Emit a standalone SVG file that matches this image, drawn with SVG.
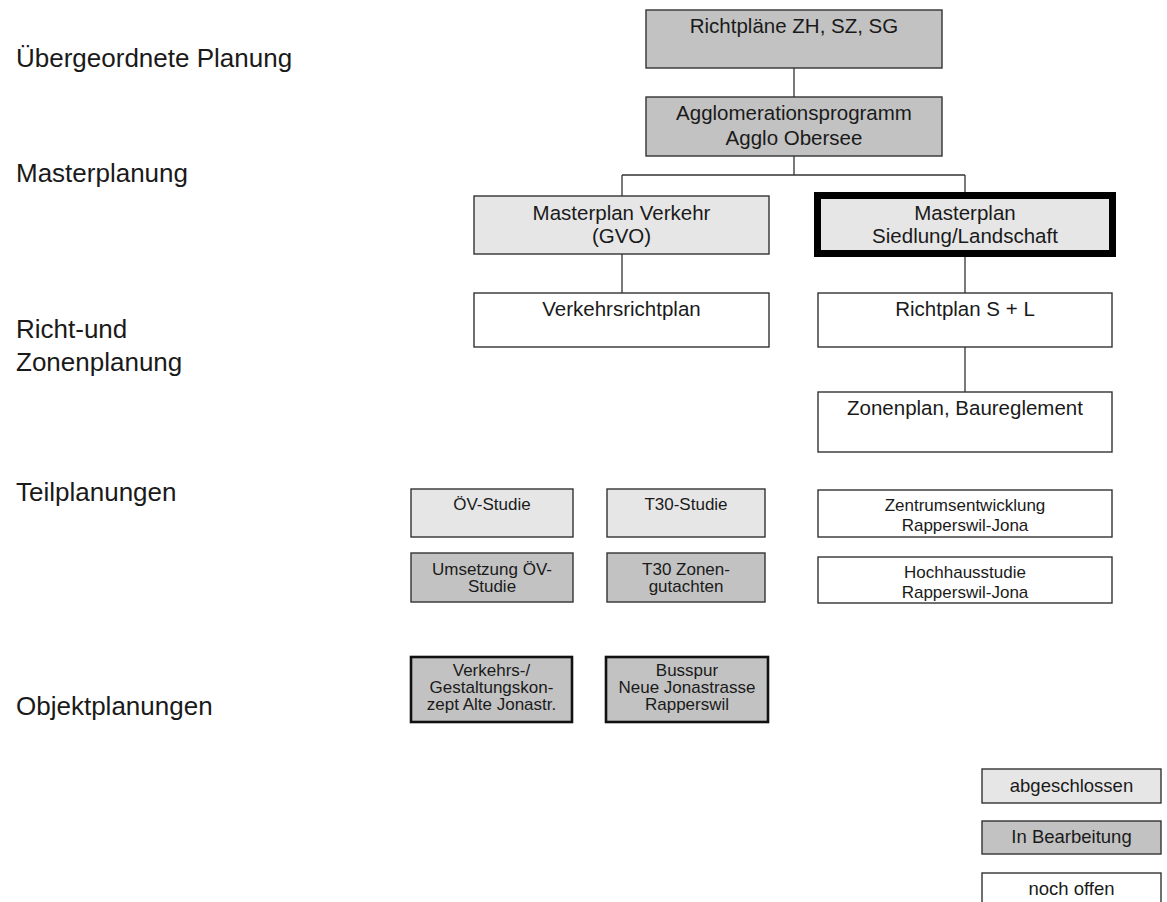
<svg xmlns="http://www.w3.org/2000/svg" width="1167" height="902" viewBox="0 0 1167 902">
<style>
text{font-family:"Liberation Sans",Arial,sans-serif;fill:#1a1a1a}
.lbl{font-size:26px}
.big{font-size:20.5px;text-anchor:middle}
.sm{font-size:17px;text-anchor:middle}
.lg{font-size:18.5px;text-anchor:middle}
.box{stroke:#333;stroke-width:1.4}
.mid{fill:#c2c2c2}
.lt{fill:#e6e6e6}
.wh{fill:#fff}
.thick{stroke:#000;stroke-width:7}
.obj{stroke:#111;stroke-width:2.6}
.con{stroke:#333;stroke-width:1.3;fill:none}
</style>
<rect width="1167" height="902" fill="#fff"/>
<g id="labels">
<text class="lbl" x="16" y="67">Übergeordnete Planung</text>
<text class="lbl" x="16" y="182">Masterplanung</text>
<text class="lbl" x="16" y="338">Richt-und</text>
<text class="lbl" x="16" y="371">Zonenplanung</text>
<text class="lbl" x="16" y="501">Teilplanungen</text>
<text class="lbl" x="16" y="715">Objektplanungen</text>
</g>
<g id="connectors">
<path class="con" d="M794 68V97M794 156V175M622 175H965M622 175V196M965 175V192M622 254V293M965 257V293M965 347V392"/>
</g>
<g id="n-richtplaene">
<rect class="box mid" x="646" y="10" width="296" height="58"/>
<text class="big" x="794" y="33">Richtpläne ZH, SZ, SG</text>
</g>
<g id="n-agglo">
<rect class="box mid" x="646" y="97" width="296" height="59"/>
<text class="big" x="794" y="120">Agglomerationsprogramm</text>
<text class="big" x="794" y="145">Agglo Obersee</text>
</g>
<g id="n-mpverkehr">
<rect class="box lt" x="474" y="196" width="295" height="58"/>
<text class="big" x="621.5" y="220">Masterplan Verkehr</text>
<text class="big" x="621.5" y="243">(GVO)</text>
</g>
<g id="n-mpsiedlung">
<rect class="thick lt" x="817.5" y="195.5" width="295" height="58"/>
<text class="big" x="965" y="220">Masterplan</text>
<text class="big" x="965" y="243">Siedlung/Landschaft</text>
</g>
<g id="n-verkehrsrichtplan">
<rect class="box wh" x="474" y="293" width="295" height="54"/>
<text class="big" x="621.5" y="316">Verkehrsrichtplan</text>
</g>
<g id="n-richtplansl">
<rect class="box wh" x="818" y="293" width="294" height="54"/>
<text class="big" x="965" y="316">Richtplan S + L</text>
</g>
<g id="n-zonenplan">
<rect class="box wh" x="818" y="392" width="294" height="60"/>
<text class="big" x="965" y="415">Zonenplan, Baureglement</text>
</g>
<g id="n-oev">
<rect class="box lt" x="411" y="489" width="162" height="48"/>
<text class="sm" x="492" y="510">ÖV-Studie</text>
</g>
<g id="n-t30">
<rect class="box lt" x="607" y="489" width="158" height="48"/>
<text class="sm" x="686" y="510">T30-Studie</text>
</g>
<g id="n-zentrum">
<rect class="box wh" x="818" y="490" width="294" height="47"/>
<text class="sm" x="965" y="511">Zentrumsentwicklung</text>
<text class="sm" x="965" y="531">Rapperswil-Jona</text>
</g>
<g id="n-umsetzung">
<rect class="box mid" x="411" y="553" width="162" height="49"/>
<text class="sm" x="492" y="575">Umsetzung ÖV-</text>
<text class="sm" x="492" y="592">Studie</text>
</g>
<g id="n-t30zonen">
<rect class="box mid" x="607" y="553" width="158" height="49"/>
<text class="sm" x="686" y="575">T30 Zonen-</text>
<text class="sm" x="686" y="592">gutachten</text>
</g>
<g id="n-hochhaus">
<rect class="box wh" x="818" y="557" width="294" height="46"/>
<text class="sm" x="965" y="578">Hochhausstudie</text>
<text class="sm" x="965" y="598">Rapperswil-Jona</text>
</g>
<g id="n-verkehrskonzept">
<rect class="obj mid" x="411" y="657" width="161" height="65"/>
<text class="sm" x="491.5" y="676">Verkehrs-/</text>
<text class="sm" x="491.5" y="693">Gestaltungskon-</text>
<text class="sm" x="491.5" y="710">zept Alte Jonastr.</text>
</g>
<g id="n-busspur">
<rect class="obj mid" x="606" y="657" width="162" height="65"/>
<text class="sm" x="687" y="676">Busspur</text>
<text class="sm" x="687" y="693">Neue Jonastrasse</text>
<text class="sm" x="687" y="710">Rapperswil</text>
</g>
<g id="legend">
<g id="l-abgeschlossen">
<rect class="box lt" x="982" y="769" width="179" height="34"/>
<text class="lg" x="1071.5" y="792">abgeschlossen</text>
</g>
<g id="l-inbearbeitung">
<rect class="box mid" x="982" y="821" width="179" height="33"/>
<text class="lg" x="1071.5" y="843">In Bearbeitung</text>
</g>
<g id="l-nochoffen">
<rect class="box wh" x="982" y="873" width="179" height="40"/>
<text class="lg" x="1071.5" y="895">noch offen</text>
</g>
</g>
</svg>
